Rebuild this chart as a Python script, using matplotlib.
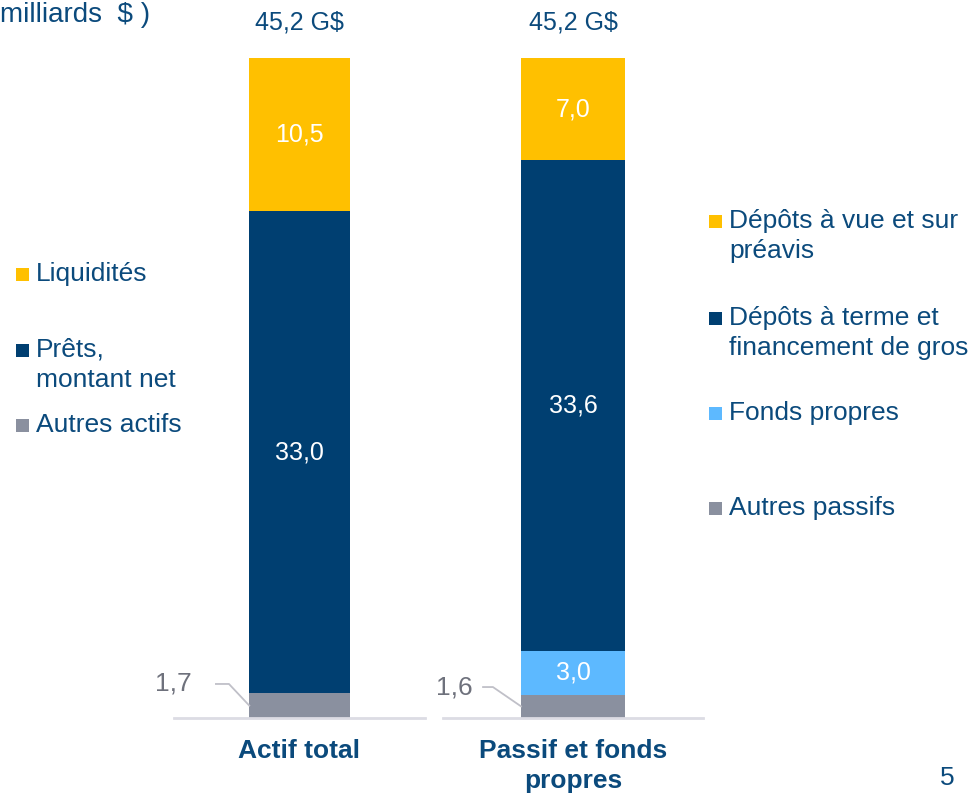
import matplotlib
matplotlib.use('Agg')
import matplotlib.pyplot as plt
from matplotlib.patches import Rectangle

plt.rcParams['font.family'] = ['Liberation Sans', 'DejaVu Sans']

# données (milliards $)
actif_labels = ['Autres actifs', 'Prêts,\nmontant net', 'Liquidités']
actif_values = [1.7, 33.0, 10.5]
passif_labels = ['Autres passifs', 'Fonds propres',
                 'Dépôts à terme et\nfinancement de gros', 'Dépôts à vue et sur\npréavis']
passif_values = [1.6, 3.0, 33.6, 7.0]
categories = ['Actif total', 'Passif et fonds\npropres']
totals = ['45,2 G$', '45,2 G$']

YELLOW = '#FFC000'
NAVY = '#003F71'
LBLUE = '#5DB9FF'
GRAY = '#8A909F'
TXT = '#0B4A7C'
actif_colors = [GRAY, NAVY, YELLOW]
passif_colors = [GRAY, LBLUE, NAVY, YELLOW]

W, H = 974, 795
fig = plt.figure(figsize=(W / 100, H / 100), dpi=100)


def fx(px):
    return px / W


def fy(py):
    return 1 - py / H


def fr(v):
    return ('%.1f' % v).replace('.', ',')


ymax = sum(actif_values)
ax1 = fig.add_axes([fx(174), fy(718), fx(425) - fx(174), fy(58) - fy(718)])
ax2 = fig.add_axes([fx(443), fy(718), fx(703) - fx(443), fy(58) - fy(718)])


def draw(ax, values, colors, cat, total, leader):
    bottom = 0
    for i, (v, c) in enumerate(zip(values, colors)):
        ax.bar(0, v, width=0.4, bottom=bottom, color=c, linewidth=0)
        if i > 0:
            ax.text(0, bottom + v / 2, fr(v), ha='center', va='center',
                    color='white', fontsize=18)
        bottom += v
    ax.set_xlim(-0.5, 0.5)
    ax.set_ylim(0, ymax)
    for s in ['top', 'right', 'left']:
        ax.spines[s].set_visible(False)
    ax.spines['bottom'].set_color('#DCDCE4')
    ax.spines['bottom'].set_linewidth(2)
    ax.set_xticks([])
    ax.set_yticks([])
    ax.text(0, ymax + 2.45, total, ha='center', va='center', color=TXT,
            fontsize=18, clip_on=False)
    ax.text(0, -1.45, cat, ha='center', va='top', color=TXT, fontsize=19,
            fontweight='bold', linespacing=1.3, clip_on=False)
    # étiquette du petit segment avec ligne de rappel
    ex, lx, tx, ly = leader
    v0 = values[0]
    ax.plot([-0.2, ex, lx], [v0 / 2, ly, ly], color='#C0C0C8', lw=1.3,
            clip_on=False)
    ax.text(tx, ly, fr(v0), ha='right', va='center', color='#6E717C',
            fontsize=19, clip_on=False)


draw(ax1, actif_values, actif_colors, categories[0], totals[0],
     (-0.281, -0.333, -0.43, 2.33))
draw(ax2, passif_values, passif_colors, categories[1], totals[1],
     (-0.308, -0.346, -0.385, 2.12))


def legend_item(x, y, label, color):
    s = 13
    fig.add_artist(Rectangle((fx(x - s / 2), fy(y + s / 2)), s / W, s / H,
                             transform=fig.transFigure, color=color, lw=0))
    fig.text(fx(x + 14), fy(y - 12), label, ha='left', va='top', color=TXT,
             fontsize=19, linespacing=1.3)


# légende gauche (actif)
left_y = [425, 350, 274]
for lab, col, yy in zip(actif_labels, actif_colors, left_y):
    legend_item(22, yy, lab, col)

# légende droite (passif)
right_y = [508, 413, 318, 221]
for lab, col, yy in zip(passif_labels, passif_colors, right_y):
    legend_item(715, yy, lab, col)

fig.text(0, fy(22), 'milliards  $ )', ha='left', va='baseline', color=TXT,
         fontsize=20)
fig.text(fx(947), fy(778), '5', ha='center', va='center', color=TXT,
         fontsize=19)

fig.savefig('out.png', dpi=100)
